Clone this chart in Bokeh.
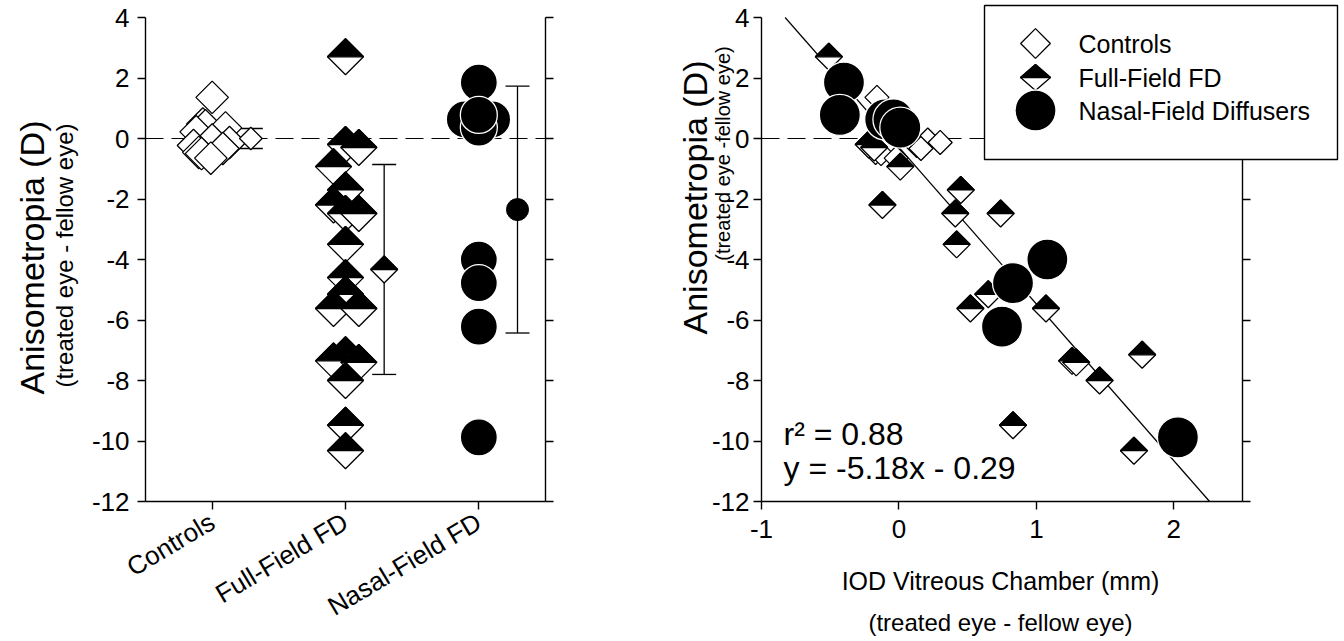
import math
from bokeh.plotting import figure
from bokeh.layouts import row
from bokeh.models import (FixedTicker, LinearAxis, Whisker, ColumnDataSource,
                          TeeHead, Label, BoxAnnotation, Range1d)
from bokeh.embed import file_html
from bokeh.resources import INLINE

# ---------------- data ----------------
categories = ["Controls", "Full-Field FD", "Nasal-Field FD"]
legend_names = ["Controls", "Full-Field FD", "Nasal-Field Diffusers"]

ctrl_aniso = [1.36, 0.48, 0.42, 0.35, 0.22, -0.05, -0.13, -0.23, -0.33, -0.46, -0.5, -0.65]
ctrl_iod = [-0.16, -0.05, 0.02, -0.08, 0.05, 0.21, 0.30, 0.13, 0.16, -0.17, -0.13, -0.02]
ctrl_jitter = [0.0, -0.07, -0.05, 0.1, -0.12, 0.0, 0.13, -0.14, 0.08, -0.1, -0.08, -0.01]

ff_aniso = [2.7, -0.2, -0.3, -0.93, -1.7, -2.2, -2.48, -2.48, -3.5, -4.6, -5.15, -5.62,
            -5.62, -7.15, -7.35, -7.4, -8.0, -9.48, -10.32]
ff_iod = [-0.51, -0.22, -0.18, 0.01, 0.45, -0.12, 0.41, 0.74, 0.42, 0.80, 0.65, 0.52,
          1.07, 1.77, 1.26, 1.29, 1.46, 0.83, 1.71]
ff_jitter = [0, 0, 0.1, -0.09, 0, -0.09, 0, 0.1, 0, 0, 0, -0.09, 0.1, 0, -0.09, 0.1, 0, 0, 0]

nasal_aniso = [1.85, 0.63, 0.63, 0.36, 0.78, -4.0, -4.78, -6.22, -9.88]
nasal_iod = [-0.40, -0.10, -0.04, 0.01, -0.43, 1.08, 0.83, 0.75, 2.03]
nasal_jitter = [0, -0.105, 0.1, 0, 0, 0, 0, 0, 0]

group_mean = [0.0, -4.33, -2.35]
group_sd = [0.33, 3.47, 4.08]

r_squared = 0.88
fit_slope = -5.18
fit_intercept = -0.29

y_ticks = [-12, -10, -8, -6, -4, -2, 0, 2, 4]
x_ticks_right = [-1, 0, 1, 2]

# ---------------- layout constants ----------------
FONT = "Liberation Sans"
H = 641
W1, W2 = 600, 744
TOP, BOT = 17, 501            # pixel rows of y = 4 and y = -12
L1, R1 = 145, 545             # left panel axis box (pixels in left figure)
L2, R2 = 161, 642             # right panel axis box (pixels in right figure)
XA1 = (0.5, 3.5)
XA2 = (-1.0, 2.5)
YA = (-12.0, 4.0)
yppu = (BOT - TOP) / (YA[1] - YA[0])
xppu1 = (R1 - L1) / (XA1[1] - XA1[0])
xppu2 = (R2 - L2) / (XA2[1] - XA2[0])
MEAN_OFFSET = 0.29
TICK_FONT = "26px"


def fy(py):
    return YA[1] - (py - TOP) / yppu


def fx1(px):
    return XA1[0] + (px - L1) / xppu1


def fx2(page_px):
    return XA2[0] + (page_px - W1 - L2) / xppu2


Y_RANGE = (fy(H), fy(0))
X_RANGE1 = (fx1(0), fx1(W1))
X_RANGE2 = (fx2(W1), fx2(W1 + W2))


def half_diamonds(xs, ys, hw, hh, xppu):
    pxs, pys, fills = [], [], []
    dy = hh / yppu
    dx = hw / xppu
    for x, y in zip(xs, ys):
        pxs.append([x - dx, x, x + dx, x]); pys.append([y, y + dy, y, y - dy]); fills.append("white")
        pxs.append([x - dx, x, x + dx]); pys.append([y, y + dy, y]); fills.append("black")
    return ColumnDataSource(dict(xs=pxs, ys=pys, fill=fills))


def style_axis(ax, standoff=7):
    ax.axis_line_color = "black"
    ax.axis_line_width = 1.4
    ax.major_tick_line_color = "black"
    ax.major_tick_line_width = 1.4
    ax.major_tick_out = 8
    ax.major_tick_in = 0
    ax.minor_tick_line_color = None
    ax.major_label_text_font = FONT
    ax.major_label_text_font_size = TICK_FONT
    ax.major_label_text_color = "black"
    ax.major_label_standoff = standoff


def base_fig(width, xr, xa, ystandoff):
    p = figure(width=width, height=H, x_range=Range1d(*xr), y_range=Range1d(*Y_RANGE),
               output_backend="svg", toolbar_location=None,
               min_border_left=0, min_border_right=0, min_border_top=0, min_border_bottom=0)
    p.xgrid.visible = False
    p.ygrid.visible = False
    p.outline_line_color = None
    p.background_fill_color = "white"
    p.border_fill_color = "white"
    ya = p.yaxis[0]
    ya.ticker = FixedTicker(ticks=y_ticks)
    ya.major_label_overrides = {t: str(t) for t in y_ticks}
    ya.fixed_location = xa[0]
    ya.bounds = YA
    style_axis(ya, ystandoff)
    xax = p.xaxis[0]
    xax.fixed_location = YA[0]
    xax.bounds = xa
    style_axis(xax, 10)
    ra = LinearAxis(ticker=FixedTicker(ticks=y_ticks), fixed_location=xa[1], bounds=YA,
                    major_label_overrides={t: "" for t in y_ticks})
    style_axis(ra)
    p.add_layout(ra, "right")
    # zero reference line across the axis box
    p.line(list(xa), [0, 0], line_color="black", line_width=1.2, line_dash="18 8")
    return p


def vlabel(p, x, y, text, size):
    p.add_layout(Label(x=x, y=y, text=text, angle=math.pi / 2, text_align="center",
                       text_baseline="middle", text_font=FONT, text_font_size=size,
                       text_color="black"))


def hlabel(p, x, y, text, size, align="center"):
    p.add_layout(Label(x=x, y=y, text=text, text_align=align, text_baseline="middle",
                       text_font=FONT, text_font_size=size, text_color="black"))


# ---------------- left panel ----------------
p1 = base_fig(W1, X_RANGE1, XA1, 8)
p1.xaxis.ticker = FixedTicker(ticks=[1, 2, 3])
p1.xaxis.major_label_overrides = {1: categories[0], 2: categories[1], 3: categories[2]}
p1.xaxis.major_label_orientation = 0.54

p1.scatter([1 + j for j in ctrl_jitter], ctrl_aniso, marker="square", angle=math.pi / 4,
           size=23, fill_color="white", line_color="black", line_width=1.3)
p1.patches("xs", "ys", source=half_diamonds([2 + j for j in ff_jitter], ff_aniso, 18, 18, xppu1),
           fill_color="fill", line_color="black", line_width=1.3)
p1.scatter([3 + j for j in nasal_jitter], nasal_aniso, marker="circle", size=37,
           fill_color="black", line_color="white", line_width=1.3)

mx = [c + MEAN_OFFSET for c in (1, 2, 3)]
wsrc = ColumnDataSource(dict(base=mx, upper=[m + s for m, s in zip(group_mean, group_sd)],
                             lower=[m - s for m, s in zip(group_mean, group_sd)]))
p1.add_layout(Whisker(source=wsrc, base="base", upper="upper", lower="lower", dimension="height",
                      line_color="black", line_width=1.3, level="underlay",
                      upper_head=TeeHead(size=24, line_width=1.3, line_color="black"),
                      lower_head=TeeHead(size=24, line_width=1.3, line_color="black")))
p1.scatter([mx[0]], [group_mean[0]], marker="square", angle=math.pi / 4, size=16,
           fill_color="white", line_color="black", line_width=1.3)
p1.patches("xs", "ys", source=half_diamonds([mx[1]], [group_mean[1]], 13.5, 13.5, xppu1),
           fill_color="fill", line_color="black", line_width=1.3)
p1.scatter([mx[2]], [group_mean[2]], marker="circle", size=22, fill_color="black",
           line_color="black")

vlabel(p1, fx1(31), fy(257), "Anisometropia (D)", "34px")
vlabel(p1, fx1(64), fy(255), "(treated eye - fellow eye)", "24px")

# ---------------- right panel ----------------
p2 = base_fig(W2, X_RANGE2, XA2, 4)
p2.xaxis.ticker = FixedTicker(ticks=x_ticks_right)
p2.xaxis.major_label_overrides = {t: str(t) for t in x_ticks_right}

# regression line drawn between y = 4 and y = -12
fit_x = [(YA[1] - fit_intercept) / fit_slope, (YA[0] - fit_intercept) / fit_slope]
p2.line(fit_x, [fit_slope * x + fit_intercept for x in fit_x], line_color="black", line_width=1.2)

p2.scatter(ctrl_iod, ctrl_aniso, marker="square", angle=math.pi / 4, size=17,
           fill_color="white", line_color="black", line_width=1.3)
p2.patches("xs", "ys", source=half_diamonds(ff_iod, ff_aniso, 13.5, 13.5, xppu2),
           fill_color="fill", line_color="black", line_width=1.3)
p2.scatter(nasal_iod, nasal_aniso, marker="circle", size=41, fill_color="black",
           line_color="white", line_width=1.3)

hlabel(p2, fx2(783), fy(433), "r\u00b2 = %.2f" % r_squared, "32px", "left")
hlabel(p2, fx2(783), fy(467), "y = %.2fx - %.2f" % (fit_slope, abs(fit_intercept)), "32px", "left")

# legend
p2.add_layout(BoxAnnotation(left=fx2(984), right=fx2(1337), top=fy(5), bottom=fy(159),
                            fill_color="white", fill_alpha=1.0, line_color="black",
                            line_width=1.4, line_alpha=1.0))
lx = fx2(1035)
ly = [fy(43), fy(77), fy(110)]
p2.scatter([lx], [ly[0]], marker="square", angle=math.pi / 4, size=21, fill_color="white",
           line_color="black", line_width=1.3, level="overlay")
p2.patches("xs", "ys", source=half_diamonds([lx], [ly[1]], 15, 13, xppu2), fill_color="fill",
           line_color="black", line_width=1.3, level="overlay")
p2.scatter([lx], [ly[2]], marker="circle", size=41, fill_color="black", line_color="white",
           line_width=1.3, level="overlay")
for name, yy in zip(legend_names, ly):
    lab = Label(x=fx2(1078), y=yy, text=name, text_baseline="middle", text_font=FONT,
                text_font_size="25px", text_color="black", level="overlay")
    p2.add_layout(lab)

vlabel(p2, fx2(694), fy(197), "Anisometropia (D)", "34px")
vlabel(p2, fx2(722), fy(153), "(treated eye -fellow eye)", "20px")
hlabel(p2, fx2(1000), fy(580), "IOD Vitreous Chamber (mm)", "25px")
hlabel(p2, fx2(1000), fy(622), "(treated eye - fellow eye)", "24px")

layout = row(p1, p2)
open("out.html", "w").write(file_html(layout, INLINE))
